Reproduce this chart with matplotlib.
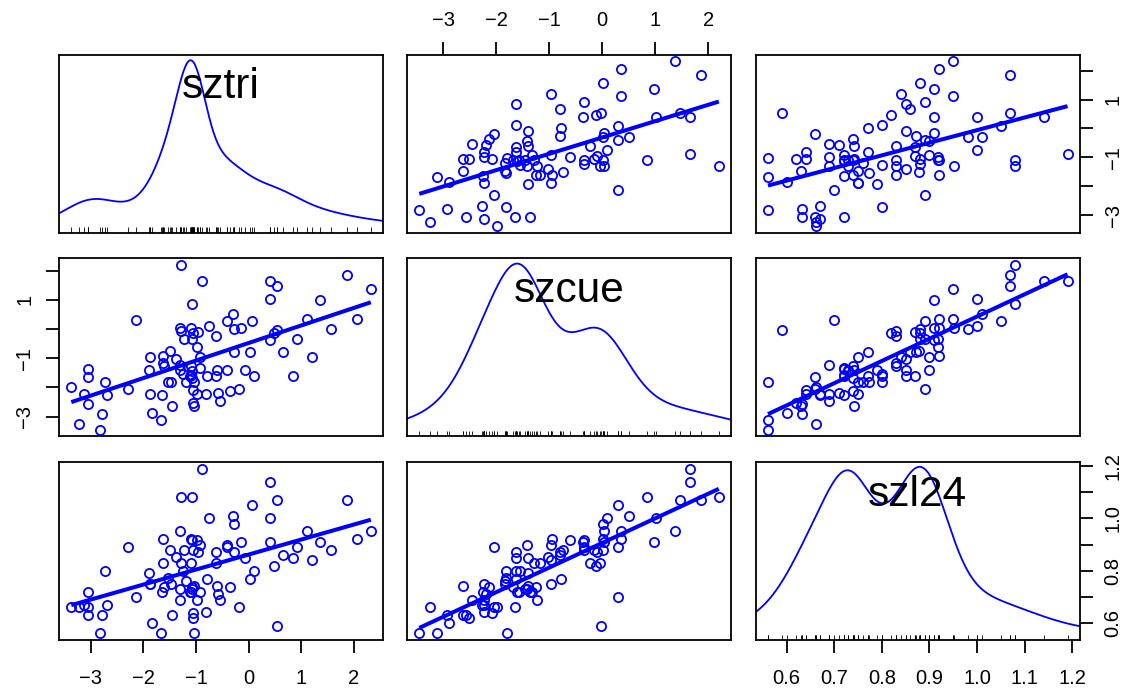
import matplotlib.pyplot as plt
import numpy as np

plt.rcParams['font.family'] = ['Liberation Sans', 'DejaVu Sans']

sztri = [-3.37, -3.22, -3.12, -3.06, -3.06, -3.06, -2.83, -2.78, -2.72, -2.69,
         -2.30, -2.14, -1.90, -1.87, -1.87, -1.83, -1.67, -1.64, -1.62, -1.62,
         -1.49, -1.53, -1.47, -1.46, -1.39, -1.30, -1.29, -1.29, -1.30, -1.30,
         -1.23, -1.20, -1.10, -1.08, -1.08, -1.10, -1.09, -1.08, -1.06, -1.06,
         -1.04, -1.03, -0.99, -0.98, -0.93, -0.92, -0.89, -0.82, -0.80, -0.75,
         -0.63, -0.62, -0.60, -0.58, -0.54, -0.42, -0.41, -0.30, -0.28, -0.27,
         -0.35, -0.19, -0.14, -0.07, 0.02, 0.07, 0.11, 0.40, 0.40, 0.40,
         0.48, 0.54, 0.54, 0.66, 0.85, 0.91, 1.11, 1.20, 1.35, 1.57,
         1.86, 2.05, 2.32, -1.08, -1.12, -1.60, -0.96, -1.05, -1.25]
szcue = [-1.99, -3.24, -2.22, -1.36, -1.65, -2.56, -3.45, -2.92, -1.82, -2.26,
         -2.04, 0.30, -1.40, -0.97, -2.23, -2.89, -3.11, -2.25, -0.94, -1.17,
         -0.74, -1.81, -1.83, -2.63, -1.02, 0.03, -0.05, 2.20, -1.23, -1.42,
         -0.35, -1.83, 0.02, 0.85, -0.35, -1.28, -1.57, -1.68, -2.08, -2.52,
         -2.63, -1.80, -0.60, -2.22, -0.96, -1.33, 1.65, -2.23, -1.62, 0.09,
         -1.62, -0.23, -1.40, -2.20, -2.45, -1.42, 0.29, 0.51, 0.01, -0.80,
         -2.14, -2.05, 0.03, -1.40, -0.77, 0.29, -1.62, 1.65, 1.02, -0.37,
         -0.12, 1.46, -0.03, -0.79, -1.62, -0.35, 0.35, -0.96, 0.98, 0.01,
         1.86, 0.35, 1.37, -1.45, -1.60, -1.25, -0.10, -0.15, -1.55]
szl24 = [0.662, 0.662, 0.671, 0.72, 0.66, 0.632, 0.561, 0.632, 0.80, 0.671,
         0.891, 0.70, 0.79, 0.749, 0.749, 0.60, 0.561, 0.72, 0.92, 0.83,
         0.879, 0.773, 0.749, 0.631, 0.851, 0.951, 0.83, 1.08, 0.69, 0.73,
         0.881, 0.76, 0.92, 1.08, 0.917, 0.83, 0.72, 0.739, 0.64, 0.62,
         0.742, 0.561, 0.917, 0.69, 0.90, 0.72, 1.19, 0.641, 0.77, 1.0,
         0.87, 0.83, 0.742, 0.71, 0.69, 0.90, 0.891, 1.01, 0.98, 0.872,
         0.74, 0.66, 0.91, 0.85, 0.77, 1.05, 0.80, 1.14, 1.0, 0.91,
         0.82, 1.07, 0.59, 0.86, 0.85, 0.89, 0.95, 0.84, 0.91, 0.88,
         1.07, 0.92, 0.95, 0.73, 0.72, 0.74, 0.87, 0.88, 0.80]

names = ["sztri", "szcue", "szl24"]
data = [np.array(sztri), np.array(szcue), np.array(szl24)]

int_ticks = [-3, -2, -1, 0, 1, 2]
int_labels = ["\u22123", "\u22122", "\u22121", "0", "1", "2"]
int_vlabels = ["\u22123", "", "\u22121", "", "1", ""]
dec_ticks = [0.6, 0.7, 0.8, 0.9, 1.0, 1.1, 1.2]
dec_labels = ["0.6", "0.7", "0.8", "0.9", "1.0", "1.1", "1.2"]
dec_vlabels = ["0.6", "", "0.8", "", "1.0", "", "1.2"]
ticks = [int_ticks, int_ticks, dec_ticks]
hlabels = [int_labels, int_labels, dec_labels]
vlabels = [int_vlabels, int_vlabels, dec_vlabels]

blue = "#0000ff"


def adaptive_kernel(x, n=500, cut=3):
    # adaptive kernel density like car::adaptiveKernel
    sd = np.std(x, ddof=1)
    iqr = np.subtract(*np.percentile(x, [75, 25]))
    bw = 0.9 * min(sd, iqr / 1.34) * len(x) ** -0.2
    x0 = np.linspace(x.min() - cut * bw, x.max() + cut * bw, n)
    pilot = np.mean(np.exp(-0.5 * ((x[:, None] - x[None, :]) / bw) ** 2), axis=1) / (bw * np.sqrt(2 * np.pi))
    g = np.exp(np.mean(np.log(pilot)))
    h = bw * (pilot / g) ** -0.5
    dens = np.mean(np.exp(-0.5 * ((x0[:, None] - x[None, :]) / h[None, :]) ** 2) / (h[None, :] * np.sqrt(2 * np.pi)), axis=1)
    return x0, dens


W, H = 1129, 692
lefts = [59.3, 407.3, 756]
tops = [54.7, 258.3, 462]
pw, ph = 323.5, 178

fig = plt.figure(figsize=(W / 100, H / 100), dpi=100)

lims = []
for v in data:
    r = v.max() - v.min()
    lims.append((v.min() - 0.04 * r, v.max() + 0.04 * r))

for i in range(3):
    for j in range(3):
        ax = fig.add_axes([lefts[j] / W, 1 - (tops[i] + ph) / H, pw / W, ph / H])
        ax.set_xlim(lims[j])
        ax.set_ylim(lims[i])
        for s in ax.spines.values():
            s.set_linewidth(1.3)
        ax.set_xticks([])
        ax.set_yticks([])

        if i == j:
            x = data[i]
            x0, d = adaptive_kernel(x)
            yy = x.min() + d * (x.max() - x.min()) / (d.max() - d.min())
            ax.plot(x0, yy, color=blue, lw=1.3)
            h = lims[i][1] - lims[i][0]
            ax.vlines(x, lims[i][0], lims[i][0] + 0.03 * h, color="black", lw=0.6)
            ax.text(0.5, 0.755, names[i], transform=ax.transAxes, ha="center",
                    va="baseline", fontsize=30.5)
        else:
            x = data[j]
            y = data[i]
            ax.plot(x, y, "o", mfc="none", mec=blue, ms=6.6, mew=1.3)
            m, c = np.polyfit(x, y, 1)
            xs = np.array([x.min(), x.max()])
            ax.plot(xs, m * xs + c, color=blue, lw=2.9, solid_capstyle="butt")

        # axes round the outside, R pairs style
        if i == 2 and j in (0, 2):
            ax.set_xticks(ticks[j])
            ax.set_xticklabels(hlabels[j])
            ax.tick_params(axis="x", length=9.4, width=1.3, pad=11.5, labelsize=14.5)
        if i == 0 and j == 1:
            ax.xaxis.tick_top()
            ax.set_xticks(ticks[j])
            ax.set_xticklabels(hlabels[j])
            ax.tick_params(axis="x", length=9.4, width=1.3, pad=8.5, labelsize=14.5)
        if j == 0 and i == 1:
            ax.set_yticks(ticks[i])
            ax.set_yticklabels(vlabels[i], rotation=90, va="center")
            ax.tick_params(axis="y", length=9.4, width=1.3, pad=8.5, labelsize=14.5)
        if j == 2 and i in (0, 2):
            ax.yaxis.tick_right()
            ax.set_yticks(ticks[i])
            ax.set_yticklabels(vlabels[i], rotation=90, va="center")
            ax.tick_params(axis="y", length=9.4, width=1.3, pad=8, labelsize=14.5)

fig.savefig("out.png", dpi=100)
